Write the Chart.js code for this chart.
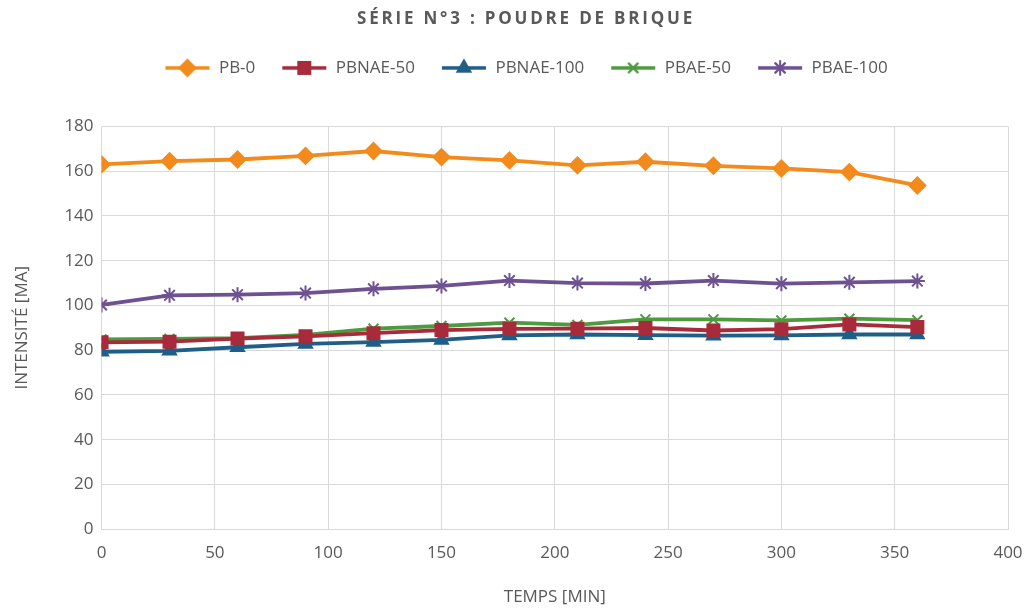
<!DOCTYPE html>
<html>
<head>
<meta charset="utf-8">
<script src="https://cdn.jsdelivr.net/npm/chart.js@4"></script>
<style>
  html, body { margin: 0; padding: 0; background: #fff; }
  #wrap { width: 1028px; height: 610px; }
</style>
</head>
<body>
<div id="wrap"><canvas id="c" width="1028" height="610"></canvas></div>
<script>
// Time points (min)
const times = [0, 30, 60, 90, 120, 150, 180, 210, 240, 270, 300, 330, 360];

// Intensity readings (mA)
const pb0      = [163, 164.5, 165.2, 166.8, 169, 166.3, 164.8, 162.6, 164.2, 162.4, 161.2, 159.6, 153.6];
const pbnae50  = [83.5, 83.8, 85.2, 86.2, 87.6, 89, 89.5, 89.6, 89.9, 88.8, 89.4, 91.5, 90.3];
const pbnae100 = [79.3, 79.7, 81.3, 82.8, 83.6, 84.6, 86.6, 87, 86.7, 86.5, 86.6, 87, 87];
const pbae50   = [84.8, 85, 85.4, 86.8, 89.6, 90.8, 92.3, 91.3, 93.8, 93.8, 93.3, 94.1, 93.4];
const pbae100  = [100.2, 104.5, 104.8, 105.5, 107.4, 108.7, 111.1, 110, 109.8, 111.1, 109.7, 110.3, 110.9];

const xTicks = { min: 0, max: 400, step: 50 };
const yTicks = { min: 0, max: 180, step: 20 };

const grey = '#595959';
const font = "'Open Sans', sans-serif";

function pts(vals) { return vals.map((v, i) => ({ x: times[i], y: v })); }

// legend icon: short line with the marker on top (Excel style)
function legendIcon(color, style, r) {
  const cv = document.createElement('canvas');
  cv.width = 46; cv.height = 20;
  const g = cv.getContext('2d');
  g.strokeStyle = color; g.fillStyle = color; g.lineWidth = 3.5;
  g.beginPath(); g.moveTo(1, 10); g.lineTo(45, 10); g.stroke();
  g.lineWidth = 2;
  Chart.helpers.drawPoint(g, { pointStyle: style, radius: r, borderWidth: 2 }, 23, 10);
  if (style === 'crossRot' || style === 'star') g.stroke(); else g.fill();
  return cv;
}

const series = [
  { label: 'PB-0',      data: pb0,      color: '#F28B1C', style: 'rectRot',  r: 8 },
  { label: 'PBNAE-50',  data: pbnae50,  color: '#A82B3B', style: 'rect',     r: 8.5 },
  { label: 'PBNAE-100', data: pbnae100, color: '#1F5E87', style: 'triangle', r: 7.5 },
  { label: 'PBAE-50',   data: pbae50,   color: '#4E9A3F', style: 'crossRot', r: 7 },
  { label: 'PBAE-100',  data: pbae100,  color: '#6E5190', style: 'star',     r: 7.5 }
];

// shift a layout box sideways when drawn (title/legend sit over the plot centre)
function shiftDraw(box, dx, spacing) {
  if (!box || box.__patched) return;
  const orig = box.draw;
  box.draw = function () {
    const ctx = this.ctx;
    ctx.save();
    ctx.translate(dx, 0);
    if (spacing) ctx.letterSpacing = spacing;
    orig.apply(this, arguments);
    ctx.restore();
  };
  box.__patched = true;
}

const tweaks = {
  id: 'tweaks',
  beforeLayout(chart) {
    const lg = chart.legend;
    if (lg && !lg.__fitPatched) {
      const fit = lg.fit;
      lg.fit = function () { fit.call(this); this.height += 40; };
      lg.__fitPatched = true;
    }
  },
  beforeDraw(chart) {
    shiftDraw(chart.titleBlock, 12, '2.8px');
    shiftDraw(chart.legend, 12, null);
  }
};

new Chart(document.getElementById('c'), {
  type: 'line',
  data: {
    datasets: series.map(s => ({
      label: s.label,
      data: pts(s.data),
      borderColor: s.color,
      backgroundColor: s.color,
      borderWidth: 3.8,
      pointStyle: s.style,
      pointRadius: s.r,
      pointBorderWidth: 2,
      pointBorderColor: s.color,
      pointBackgroundColor: s.color,
      tension: 0,
      fill: false
    }))
  },
  options: {
    responsive: false,
    animation: false,
    layout: { padding: { left: 8, right: 8, top: 4, bottom: 3 } },
    plugins: {
      title: {
        display: true,
        text: 'SÉRIE N°3 : POUDRE DE BRIQUE',
        color: grey,
        font: { family: font, size: 17, weight: 'bold' },
        padding: { top: 5, bottom: 4 }
      },
      legend: {
        position: 'top',
        labels: {
          color: grey,
          font: { family: font, size: 17 },
          usePointStyle: true,
          pointStyleWidth: 46,
          padding: 26,
          generateLabels(chart) {
            return series.map((s, i) => ({
              text: s.label,
              pointStyle: legendIcon(s.color, s.style, s.r),
              fontColor: grey,
              hidden: !chart.isDatasetVisible(i),
              datasetIndex: i,
              lineWidth: 0
            }));
          }
        }
      },
      tooltip: { enabled: false }
    },
    scales: {
      x: {
        type: 'linear',
        min: xTicks.min, max: xTicks.max,
        ticks: { stepSize: xTicks.step, color: grey, font: { family: font, size: 17 }, padding: 14 },
        grid: { color: '#d9d9d9', drawTicks: false },
        border: { color: '#d9d9d9' },
        title: { display: true, text: 'TEMPS [MIN]', color: grey, font: { family: font, size: 17 }, padding: { top: 9, bottom: 0 } },
        // room for the half "400" label only, not the tick padding
        afterFit(scale) { scale.paddingRight = 20; }
      },
      y: {
        min: yTicks.min, max: yTicks.max,
        ticks: { stepSize: yTicks.step, color: grey, font: { family: font, size: 17 }, padding: 8 },
        grid: { color: '#d9d9d9', drawTicks: false },
        border: { display: false },
        title: { display: true, text: 'INTENSITÉ [MA]', color: grey, font: { family: font, size: 17 }, padding: { bottom: 24 } }
      }
    }
  },
  plugins: [tweaks]
});
</script>
</body>
</html>
